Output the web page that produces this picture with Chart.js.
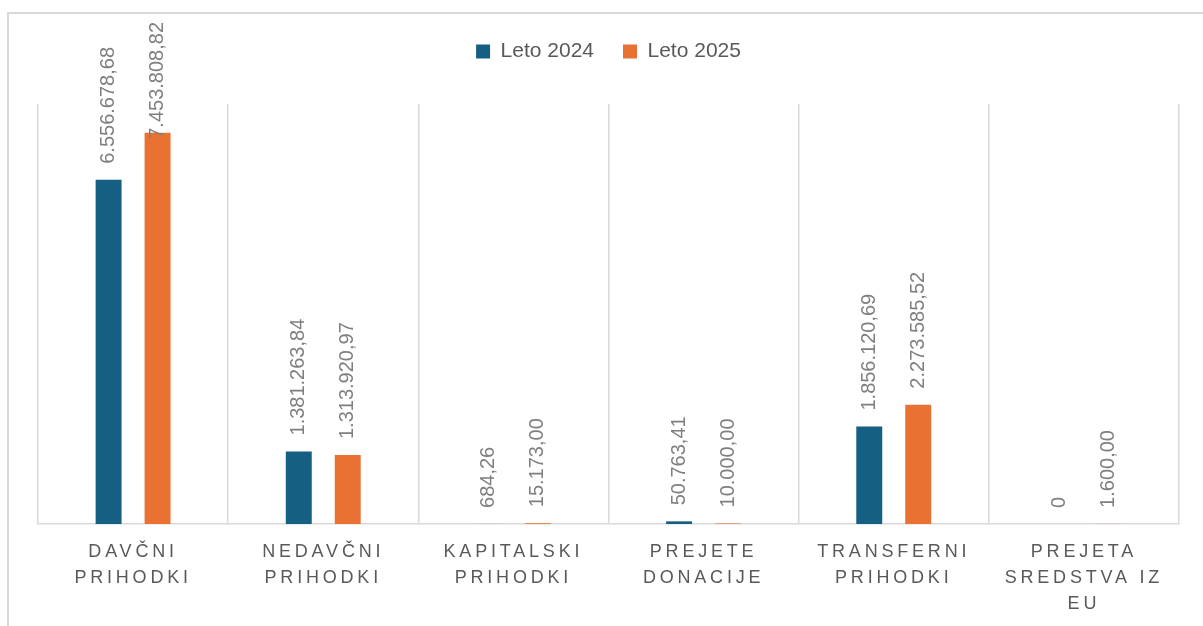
<!DOCTYPE html>
<html><head><meta charset="utf-8">
<script src="https://cdn.jsdelivr.net/npm/chart.js@4"></script>
<style>
html,body{margin:0;padding:0;background:#fff;overflow:hidden}
#frame{position:absolute;left:7px;top:12px;width:1220px;height:640px;border-left:2px solid #d9d9d9;border-top:2px solid #d9d9d9}
#wrap{position:absolute;left:0;top:0;width:1203px;height:626px}
</style></head><body>
<div id="frame"></div>
<div id="wrap"><canvas id="c"></canvas></div>
<script>
const categories = [
  ['DAVČNI','PRIHODKI'],
  ['NEDAVČNI','PRIHODKI'],
  ['KAPITALSKI','PRIHODKI'],
  ['PREJETE','DONACIJE'],
  ['TRANSFERNI','PRIHODKI'],
  ['PREJETA','SREDSTVA IZ','EU']
];
const seriesNames = ['Leto 2024','Leto 2025'];
const values2024 = [6556678.68, 1381263.84, 684.26, 50763.41, 1856120.69, 0];
const values2025 = [7453808.82, 1313920.97, 15173.00, 10000.00, 2273585.52, 1600.00];
const seriesColors = ['#156082','#E97132'];
const yMin = 0;
const yMax = 8000000;

function fmt(v){
  if (v === 0) return '0';
  const parts = v.toFixed(2).split('.');
  return parts[0].replace(/\B(?=(\d{3})+(?!\d))/g,'.') + ',' + parts[1];
}

const FONT = '"Liberation Sans", Arial, sans-serif';

const barLabels = {
  id:'barLabels',
  afterDatasetsDraw(chart){
    const ctx = chart.ctx;
    ctx.save();
    ctx.font = '20px ' + FONT;
    ctx.fillStyle = '#7f7f7f';
    ctx.textAlign = 'left';
    ctx.textBaseline = 'middle';
    chart.data.datasets.forEach((ds,di)=>{
      chart.getDatasetMeta(di).data.forEach((bar,i)=>{
        const t = fmt(ds.data[i]);
        const w = ctx.measureText(t).width;
        let start = bar.y - 16;
        if (start - w < 22) start = 22 + w;
        ctx.save();
        ctx.translate(bar.x, start);
        ctx.rotate(-Math.PI/2);
        ctx.fillText(t, 0, 0);
        ctx.restore();
      });
    });
    ctx.restore();
    ctx.letterSpacing = '3.8px';
  },
  afterDraw(chart){ chart.ctx.letterSpacing = '0px'; }
};

const legendGap = {
  id:'legendGap',
  beforeInit(chart){
    const orig = chart.legend.fit;
    chart.legend.fit = function(){ orig.call(this); this.height += 32; };
  }
};

new Chart(document.getElementById('c'), {
  type:'bar',
  data:{
    labels: categories,
    datasets:[
      {label: seriesNames[0], data: values2024, backgroundColor: seriesColors[0], categoryPercentage:0.515, barPercentage:0.53},
      {label: seriesNames[1], data: values2025, backgroundColor: seriesColors[1], categoryPercentage:0.515, barPercentage:0.53}
    ]
  },
  options:{
    responsive:true,
    maintainAspectRatio:false,
    animation:false,
    layout:{padding:{left:38, right:24, top:12, bottom:0}},
    plugins:{
      legend:{
        position:'top',
        labels:{boxWidth:14, boxHeight:14, color:'#595959', padding:29, font:{size:21, family:FONT}}
      },
      tooltip:{enabled:false}
    },
    scales:{
      x:{
        grid:{display:true, offset:true, color:'#d9d9d9', lineWidth:1.5, drawTicks:false},
        border:{color:'#d9d9d9', width:1.5},
        ticks:{color:'#595959', font:{size:18, family:FONT, lineHeight:1.45}, padding:15, z:1, maxRotation:0, autoSkip:false},
        afterFit(scale){ scale.height = 102; }
      },
      y:{display:false, min:yMin, max:yMax, grid:{display:false}}
    }
  },
  plugins:[barLabels, legendGap]
});
</script>
</body></html>
